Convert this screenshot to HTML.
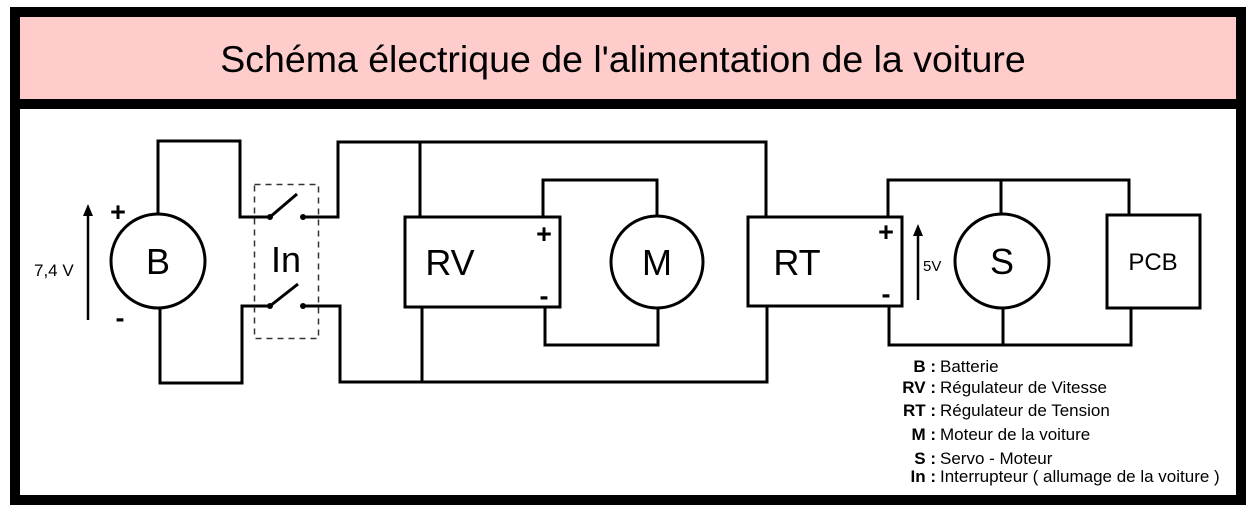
<!DOCTYPE html>
<html><head><meta charset="utf-8"><style>
html,body{margin:0;padding:0;background:#fff;width:1255px;height:514px;overflow:hidden}
svg{display:block}
text{font-family:"Liberation Sans",sans-serif}
</style></head><body>
<svg width="1255" height="514" viewBox="0 0 1255 514" xmlns="http://www.w3.org/2000/svg">
<rect x="10" y="7" width="1236" height="498" fill="#000"/>
<rect x="20" y="17" width="1216" height="82" fill="#ffcccc"/>
<rect x="20" y="109" width="1216" height="386" fill="#fff"/>
<text x="623" y="72" font-size="37.5" text-anchor="middle">Schéma électrique de l'alimentation de la voiture</text>
<g fill="none" stroke="#000" stroke-width="3">
<circle cx="158" cy="261" r="47"/>
<polyline points="158,214 158,141 240,141 240,217 270,217"/>
<polyline points="160,308 160,383 242,383 242,306 270,306"/>
<line x1="270" y1="217" x2="297" y2="194"/>
<line x1="270" y1="306" x2="298" y2="284"/>
<polyline points="303,217 338,217 338,142 766,142 766,217"/>
<polyline points="303,306 340,306 340,382 767,382 767,306"/>
<line x1="420" y1="142" x2="420" y2="217"/>
<line x1="422" y1="307" x2="422" y2="382"/>
<rect x="405" y="217" width="155" height="90"/>
<polyline points="543,217 543,180 657,180 657,215"/>
<circle cx="657" cy="262" r="46"/>
<polyline points="658,308 658,345 545,345 545,307"/>
<rect x="748" y="217" width="154" height="89"/>
<polyline points="888,217 888,180 1129,180 1129,215"/>
<line x1="1001" y1="180" x2="1001" y2="214"/>
<circle cx="1002" cy="261" r="47"/>
<rect x="1107" y="215" width="93" height="93"/>
<polyline points="889,306 889,345 1131,345 1131,308"/>
<line x1="1003" y1="308" x2="1003" y2="345"/>
<line x1="88" y1="320" x2="88" y2="212" stroke-width="2.5"/>
<line x1="918" y1="300" x2="918" y2="232" stroke-width="2.5"/>
</g>
<rect x="254.5" y="184.5" width="64" height="154" fill="none" stroke="#333" stroke-width="1.5" stroke-dasharray="6,5"/>
<g fill="#000">
<circle cx="270" cy="217" r="3"/><circle cx="303" cy="217" r="3"/>
<circle cx="270" cy="306" r="3"/><circle cx="303" cy="306" r="3"/>
<polygon points="88,204 83,216 93,216"/>
<polygon points="918,224 913,236 923,236"/>
</g>
<g font-size="36" text-anchor="middle">
<text x="158" y="274">B</text>
<text x="286" y="272">In</text>
<text x="450" y="275">RV</text>
<text x="657" y="275">M</text>
<text x="797" y="275">RT</text>
<text x="1002" y="274">S</text>
</g>
<text x="1153" y="270" font-size="24" text-anchor="middle">PCB</text>
<g font-size="27" text-anchor="middle" font-weight="bold">
<text x="118" y="221">+</text><text x="120" y="327">-</text>
<text x="544" y="243">+</text><text x="544" y="305">-</text>
<text x="886" y="241">+</text><text x="886" y="303">-</text>
</g>
<text x="34" y="276" font-size="17">7,4 V</text>
<text x="923" y="271" font-size="15">5V</text>
<g font-size="17">
<text x="936" y="372" text-anchor="end" font-weight="bold">B :</text><text x="940" y="372">Batterie</text>
<text x="936" y="393" text-anchor="end" font-weight="bold">RV :</text><text x="940" y="393">Régulateur de Vitesse</text>
<text x="936" y="416" text-anchor="end" font-weight="bold">RT :</text><text x="940" y="416">Régulateur de Tension</text>
<text x="936" y="440" text-anchor="end" font-weight="bold">M :</text><text x="940" y="440">Moteur de la voiture</text>
<text x="936" y="464" text-anchor="end" font-weight="bold">S :</text><text x="940" y="464">Servo - Moteur</text>
<text x="936" y="482" text-anchor="end" font-weight="bold">In :</text><text x="940" y="482">Interrupteur ( allumage de la voiture )</text>
</g>
</svg>
</body></html>
